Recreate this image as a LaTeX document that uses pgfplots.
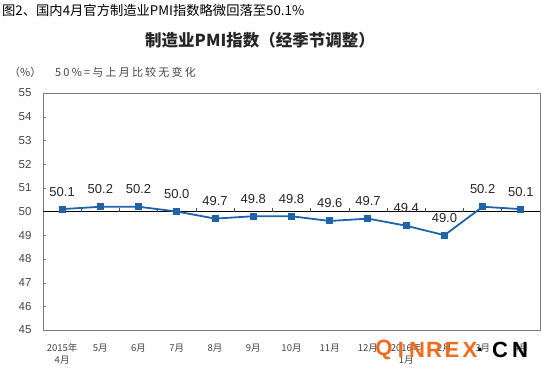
\documentclass[border=0pt]{standalone}
\usepackage{pgfplots}
\pgfplotsset{compat=1.18}
\usepackage{fontspec}
\setmainfont{Liberation Sans}
\newfontfamily\cjk{Noto Sans CJK SC}
\definecolor{pmiblue}{HTML}{1F64AA}
\definecolor{framegray}{HTML}{7A7A7A}
\definecolor{labgray}{HTML}{444444}
\definecolor{wmorange}{HTML}{F26A1B}
\begin{document}
\begin{tikzpicture}[x=1bp,y=1bp]
\useasboundingbox (0,0) rectangle (546,372);
\node[anchor=west,inner sep=0,font=\cjk\fontsize{13.3bp}{15bp}\selectfont] at (2,362) {图2、国内4月官方制造业PMI指数略微回落至50.1\%};
\node[anchor=center,inner sep=0,text=black!85,font=\cjk\bfseries\fontsize{16.5bp}{18bp}\selectfont] at (260,332) {制造业PMI指数（经季节调整）};
\node[anchor=west,inner sep=0,text=labgray,font=\cjk\fontsize{11bp}{12bp}\selectfont] at (9,300) {（\%）};
\node[anchor=west,inner sep=0,text=labgray,font=\cjk\fontsize{11bp}{12bp}\selectfont\addfontfeature{LetterSpace=20}] at (55,300) {50\%=与上月比较无变化};
\begin{axis}[
  at={(43bp,42bp)}, anchor=south west,
  scale only axis, width=497bp, height=237bp,
  xmin=-0.5, xmax=12.5, ymin=45, ymax=55,
  ytick={45,46,...,55},
  xtick={0,...,12},
  xticklabels={{2015年\\4月},5月,6月,7月,8月,9月,10月,11月,12月,{2016年\\1月},2月,3月,4月},
  x tick label style={font=\cjk\fontsize{9.5bp}{12bp}\selectfont, text=labgray, align=center, yshift=-10bp},
  y tick label style={font=\fontsize{11.5bp}{13bp}\selectfont, text=labgray, xshift=-8bp},
  /pgf/number format/assume math mode=true,
  xtick style={draw=none},
  ytick pos=left, tick align=inside, major tick length=3bp,
  ytick style={framegray},
  axis line style={framegray, line width=0.9bp},
  clip=false,
]
\addplot[black, line width=0.8bp, forget plot] coordinates {(-0.5,50) (12.5,50)};
\pgfplotsinvokeforeach{0.5,1.5,2.5,3.5,4.5,5.5,6.5,7.5,8.5,9.5,10.5,11.5}{
  \draw[black!70, line width=0.6bp] (axis cs:#1,50) -- (axis cs:#1,50.13);
}
\addplot[pmiblue, line width=1.8bp, mark=square*, mark size=2.6bp,
  nodes near coords, point meta=explicit symbolic,
  every node near coord/.style={anchor=south, inner sep=0, yshift=12bp, text=black!85, font=\fontsize{13bp}{15bp}\selectfont}]
  table[meta=lab] {
x y lab
0 50.1 50.1
1 50.2 50.2
2 50.2 50.2
3 50.0 50.0
4 49.7 49.7
5 49.8 49.8
6 49.8 49.8
7 49.6 49.6
8 49.7 49.7
9 49.4 49.4
10 49.0 49.0
11 50.2 50.2
12 50.1 50.1
};
\end{axis}
\foreach \x/\c/\t in {384/wmorange/Q,401/wmorange/I,417/wmorange/N,434/wmorange/R,452/wmorange/E,470/wmorange/X,480/black/.,500/black/C,520/black/N} {
  \node[inner sep=0,text=\c,font=\bfseries\fontsize{22bp}{24bp}\selectfont] at (\x,22) {\t};
}
\end{tikzpicture}
\end{document}
